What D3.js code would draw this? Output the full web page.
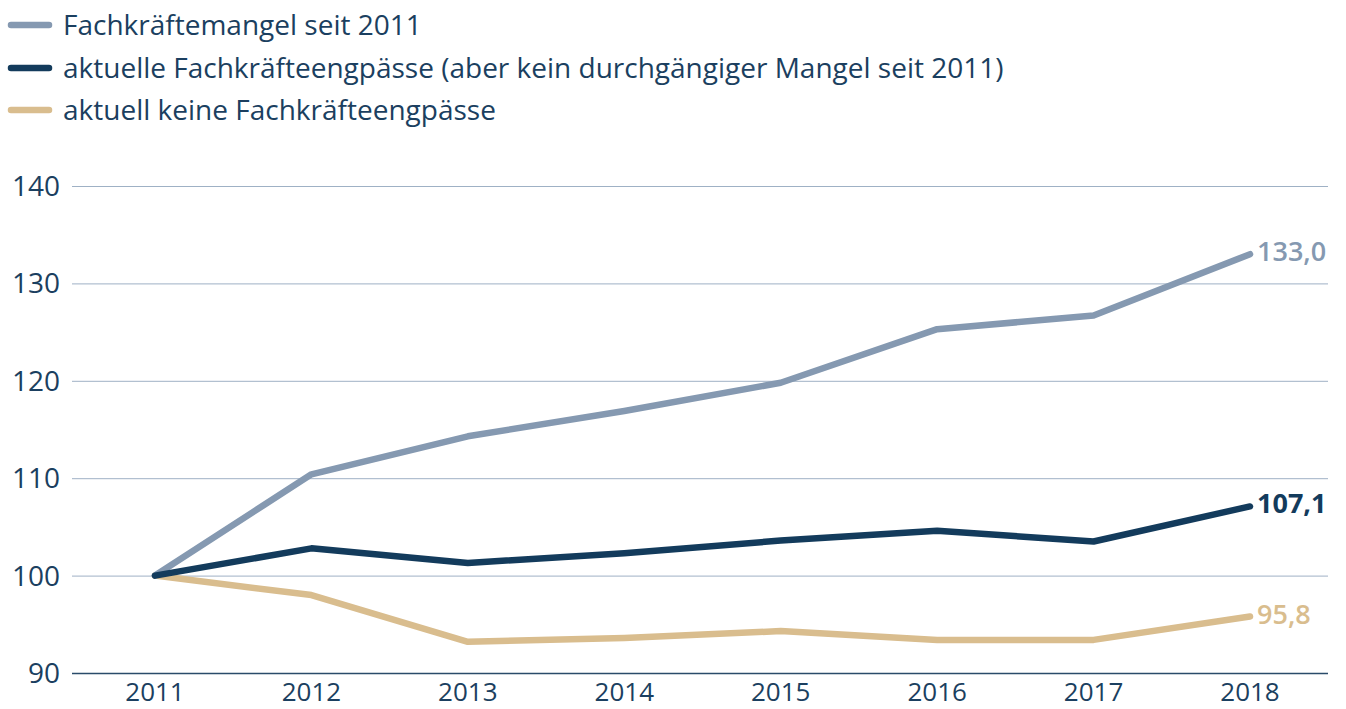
<!DOCTYPE html>
<html>
<head>
<meta charset="utf-8">
<script src="https://cdn.jsdelivr.net/npm/d3@7"></script>
<style>
  body { margin: 0; background: #fff; }
  text { font-family: "Open Sans", "Noto Sans", sans-serif; }
</style>
</head>
<body>
<div id="chart"></div>
<script>
const width = 1346;
const height = 709;

// Daten
const years = [2011, 2012, 2013, 2014, 2015, 2016, 2017, 2018];
const mangel = [100, 110.4, 114.3, 116.9, 119.8, 125.3, 126.7, 133.0];
const engpass = [100, 102.8, 101.3, 102.3, 103.6, 104.6, 103.5, 107.1];
const keine = [100, 98.0, 93.2, 93.6, 94.3, 93.4, 93.4, 95.8];
const seriesNames = [
  'Fachkräftemangel seit 2011',
  'aktuelle Fachkräfteengpässe (aber kein durchgängiger Mangel seit 2011)',
  'aktuell keine Fachkräfteengpässe'
];
const endLabels = ['133,0', '107,1', '95,8'];
const yTicks = [90, 100, 110, 120, 130, 140];

const colors = ['#8599b1', '#133b5c', '#d9bd8e'];
const textColor = '#1b3f60';

const svg = d3.select('#chart')
  .append('svg')
  .attr('width', width)
  .attr('height', height);

const xScale = d3.scalePoint()
  .domain(years)
  .range([155, 1250]);

const yScale = d3.scaleLinear()
  .domain([90, 140])
  .range([673, 186]);

// Gitterlinien
svg.append('g')
  .selectAll('line')
  .data(yTicks)
  .enter()
  .append('line')
  .attr('x1', 72)
  .attr('x2', 1328)
  .attr('y1', d => yScale(d) + 0.5)
  .attr('y2', d => yScale(d) + 0.5)
  .attr('stroke', d => d === 90 ? '#2a4b6a' : '#9fb1c5')
  .attr('stroke-width', d => d === 90 ? 1.3 : 1);

// Y-Achse
svg.append('g')
  .selectAll('text')
  .data(yTicks)
  .enter()
  .append('text')
  .attr('x', 60)
  .attr('y', d => yScale(d) + 10)
  .attr('text-anchor', 'end')
  .attr('font-size', 28)
  .attr('fill', textColor)
  .text(d => d);

// X-Achse
svg.append('g')
  .selectAll('text')
  .data(years)
  .enter()
  .append('text')
  .attr('x', d => xScale(d))
  .attr('y', 701)
  .attr('text-anchor', 'middle')
  .attr('font-size', 26)
  .attr('fill', textColor)
  .text(d => d);

// Linien
const line = d3.line()
  .x((d, i) => xScale(years[i]))
  .y(d => yScale(d));

const allSeries = [mangel, engpass, keine];
// keine zuerst, dann mangel, dann engpass obenauf
const drawOrder = [2, 0, 1];
drawOrder.forEach(i => {
  svg.append('path')
    .datum(allSeries[i])
    .attr('d', line)
    .attr('fill', 'none')
    .attr('stroke', colors[i])
    .attr('stroke-width', 6.5)
    .attr('stroke-linecap', 'round')
    .attr('stroke-linejoin', 'round');
});

// Endwerte
allSeries.forEach((s, i) => {
  svg.append('text')
    .attr('x', xScale(years[years.length - 1]) + 7)
    .attr('y', yScale(s[s.length - 1]) + 7)
    .attr('font-size', 27)
    .attr('font-weight', i === 1 ? 700 : 600)
    .attr('fill', colors[i])
    .text(endLabels[i]);
});

// Legende
const legendY = [25, 68, 110];
const legend = svg.append('g').attr('class', 'legend');
seriesNames.forEach((name, i) => {
  legend.append('line')
    .attr('x1', 11)
    .attr('x2', 49)
    .attr('y1', legendY[i])
    .attr('y2', legendY[i])
    .attr('stroke', colors[i])
    .attr('stroke-width', 6.5)
    .attr('stroke-linecap', 'round');
  legend.append('text')
    .attr('x', 63)
    .attr('y', legendY[i] + 10)
    .attr('font-size', 28)
    .attr('fill', textColor)
    .text(name);
});
</script>
</body>
</html>
